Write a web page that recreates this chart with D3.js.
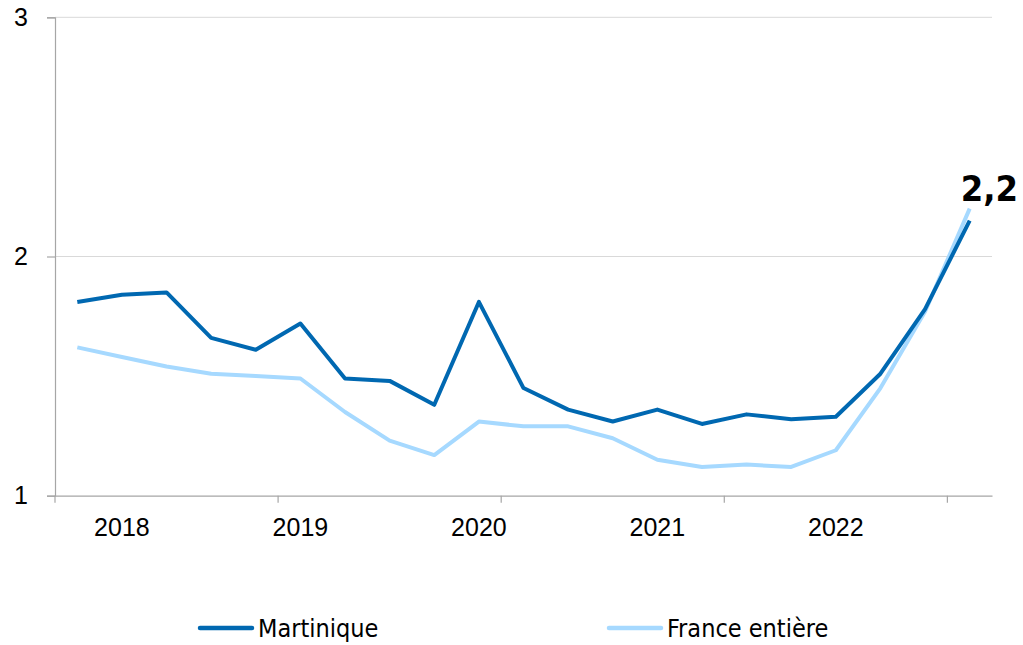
<!DOCTYPE html>
<html>
<head>
<meta charset="utf-8">
<script src="https://cdn.jsdelivr.net/npm/d3@7"></script>
<style>
  html, body { margin: 0; padding: 0; background: #fff; }
  svg { display: block; font-family: "DejaVu Sans Condensed", "DejaVu Sans", sans-serif; font-stretch: condensed; }
</style>
</head>
<body>
<div id="chart"></div>
<script>
// quarterly series, 2017 T4 -> 2022 T4
const quarters = [
  "2017T4",
  "2018T1", "2018T2", "2018T3", "2018T4",
  "2019T1", "2019T2", "2019T3", "2019T4",
  "2020T1", "2020T2", "2020T3", "2020T4",
  "2021T1", "2021T2", "2021T3", "2021T4",
  "2022T1", "2022T2", "2022T3", "2022T4",
];
// label shown under a category ("" = none)
const axisLabels = [
  "", "2018", "", "", "",
  "2019", "", "", "", "2020", "", "", "",
  "2021", "", "", "", "2022", "", "", "",
];
const martinique = [
  1.81, 1.84, 1.85, 1.66, 1.61, 1.72, 1.49, 1.48, 1.38, 1.81, 1.45,
  1.36, 1.31, 1.36, 1.30, 1.34, 1.32, 1.33, 1.51, 1.78, 2.15,
];
const france = [
  1.62, 1.58, 1.54, 1.51, 1.50, 1.49, 1.35, 1.23, 1.17, 1.31, 1.29,
  1.29, 1.24, 1.15, 1.12, 1.13, 1.12, 1.19, 1.45, 1.77, 2.20,
];
const yTicks = [1, 2, 3];
const lastLabel = "2,2";

const series = [
  { name: "Martinique", values: martinique, color: "#0068b1" },
  { name: "France entière", values: france, color: "#a6d9ff" },
];

const width = 1023;
const height = 645;
const margin = { top: 17.3, right: 31, bottom: 149.3, left: 55 };

const svg = d3.select("#chart")
  .append("svg")
  .attr("width", width)
  .attr("height", height);

const x = d3.scaleBand()
  .domain(quarters)
  .range([margin.left, width - margin.right])
  .padding(0);

const y = d3.scaleLinear()
  .domain([1, 3])
  .range([height - margin.bottom, margin.top]);

const cx = (q) => x(q) + x.bandwidth() / 2;

// gridlines
svg.append("g")
  .selectAll("line")
  .data(yTicks.filter((d) => d > 1))
  .join("line")
  .attr("x1", margin.left)
  .attr("x2", width - margin.right)
  .attr("y1", (d) => y(d))
  .attr("y2", (d) => y(d))
  .attr("stroke", "#d9d9d9")
  .attr("stroke-width", 1);

// y axis
const yAxis = svg.append("g")
  .attr("transform", `translate(${margin.left},0)`)
  .call(d3.axisLeft(y).tickValues(yTicks).tickSize(8).tickPadding(19).tickFormat(d3.format("d")));
yAxis.select(".domain").attr("stroke", "#a6a6a6").attr("stroke-width", 1.2);
yAxis.selectAll(".tick line").attr("stroke", "#a6a6a6").attr("stroke-width", 1.2);
yAxis.selectAll(".tick text")
  .attr("fill", "#000")
  .style("font-size", "25px")
  .style("font-family", "inherit");

// x axis: labels centred on category, tick marks on every 5th boundary
const xAxis = svg.append("g")
  .attr("transform", `translate(0,${height - margin.bottom})`)
  .call(d3.axisBottom(x)
    .tickValues(quarters.filter((q, i) => axisLabels[i] !== ""))
    .tickSize(0)
    .tickPadding(23)
    .tickFormat((q) => axisLabels[quarters.indexOf(q)]));
xAxis.select(".domain").attr("stroke", "#a6a6a6").attr("stroke-width", 1.2);
xAxis.selectAll(".tick text")
  .attr("fill", "#000")
  .style("font-size", "25px")
  .style("font-family", "inherit");
xAxis.append("g")
  .selectAll("line")
  .data(quarters.filter((q, i) => i % 5 === 0))
  .join("line")
  .attr("x1", (q) => x(q))
  .attr("x2", (q) => x(q))
  .attr("y1", 0)
  .attr("y2", 7)
  .attr("stroke", "#a6a6a6")
  .attr("stroke-width", 1.2);

// lines
const line = d3.line()
  .x((d, i) => cx(quarters[i]))
  .y((d) => y(d));

svg.append("g")
  .selectAll("path")
  .data(series.slice().reverse())
  .join("path")
  .attr("d", (s) => line(s.values))
  .attr("fill", "none")
  .attr("stroke", (s) => s.color)
  .attr("stroke-width", 4)
  .attr("stroke-linejoin", "round");

// end value label
svg.append("text")
  .attr("x", 1018)
  .attr("y", 201)
  .attr("text-anchor", "end")
  .style("font-size", "36px")
  .style("font-weight", "bold")
  .text(lastLabel);

// legend
const legendX = [200, 609];
const legend = svg.append("g")
  .selectAll("g")
  .data(series)
  .join("g")
  .attr("transform", (s, i) => `translate(${legendX[i]},628)`);
legend.append("line")
  .attr("x1", 0)
  .attr("x2", 52)
  .attr("stroke", (s) => s.color)
  .attr("stroke-width", 4.5)
  .attr("stroke-linecap", "round");
legend.append("text")
  .attr("x", 58)
  .attr("dy", "0.35em")
  .style("font-size", "25px")
  .text((s) => s.name);
</script>
</body>
</html>
